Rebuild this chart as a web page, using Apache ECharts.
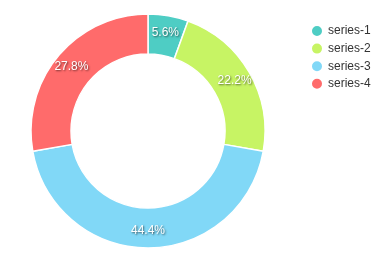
<!DOCTYPE html>
<html>
<head>
<meta charset="utf-8">
<script src="https://cdn.jsdelivr.net/npm/echarts@6/dist/echarts.min.js"></script>
<style>
  html, body { margin: 0; padding: 0; background: #fff; }
  #chart { width: 387px; height: 264px; }
</style>
</head>
<body>
<div id="chart"></div>
<script>
const names = ['series-1', 'series-2', 'series-3', 'series-4']
const values = [1, 4, 8, 5]
const colors = ['#4ecdc4', '#c7f464', '#81d8f7', '#ff6b6b']

const chart = echarts.init(document.getElementById('chart'))
chart.setOption({
  animation: false,
  color: colors,
  legend: {
    orient: 'vertical',
    left: 305,
    top: 19,
    icon: 'circle',
    itemWidth: 12,
    itemHeight: 12,
    itemGap: 3.6,
    textStyle: { color: '#333', fontSize: 12, fontFamily: 'Liberation Sans' },
    data: names
  },
  series: [
    {
      type: 'pie',
      center: [148, 131],
      radius: [77, 117],
      startAngle: 90,
      itemStyle: { borderColor: '#fff', borderWidth: 1.5 },
      label: {
        position: 'inside',
        formatter: p => p.percent.toFixed(1) + '%',
        color: '#fff',
        fontSize: 12,
        fontFamily: 'Liberation Sans',
        padding: [0, 0, 8, 0],
        textShadowColor: 'rgba(0,0,0,0.6)',
        textShadowBlur: 2,
        textShadowOffsetX: 1,
        textShadowOffsetY: 1
      },
      labelLine: { show: false },
      data: names.map((n, i) => ({ name: n, value: values[i] }))
    }
  ]
})
</script>
</body>
</html>
